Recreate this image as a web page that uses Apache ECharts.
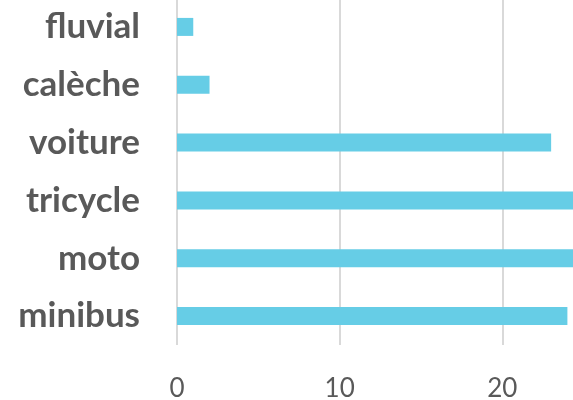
<!DOCTYPE html>
<html>
<head>
<meta charset="utf-8">
<script src="https://cdn.jsdelivr.net/npm/echarts@6/dist/echarts.min.js"></script>
<style>
  html, body { margin: 0; padding: 0; background: #fff; }
  #chart { width: 573px; height: 400px; }
</style>
</head>
<body>
<div id="chart"></div>
<script>
// categories from top to bottom
const categories = ['fluvial', 'calèche', 'voiture', 'tricycle', 'moto', 'minibus']
const values = [1, 2, 23, 25, 25, 24]
const xTicks = [0, 10, 20, 30]

const chart = echarts.init(document.getElementById('chart'))
const option = {
  animation: false,
  // grid runs past the right edge, the picture is cut there
  grid: { left: 177, right: -92, top: -2, bottom: 55, outerBoundsMode: 'none', containLabel: false },
  xAxis: {
    type: 'value',
    min: xTicks[0],
    max: xTicks[xTicks.length - 1],
    interval: 10,
    axisLine: { show: false },
    axisTick: { show: false },
    splitLine: { lineStyle: { color: '#D9D9D9', width: 2 } },
    axisLabel: {
      color: '#595959',
      fontFamily: 'Lato',
      fontSize: 26,
      margin: 31
    }
  },
  yAxis: {
    type: 'category',
    inverse: true,
    data: categories,
    axisLine: { show: false },
    axisTick: { show: false },
    axisLabel: {
      color: '#595959',
      fontFamily: 'Lato',
      fontWeight: 'bold',
      fontSize: 35,
      margin: 37
    }
  },
  series: [{
    type: 'bar',
    data: values,
    barWidth: 18,
    itemStyle: { color: '#66CDE6' }
  }]
}
chart.setOption(option)
</script>
</body>
</html>
